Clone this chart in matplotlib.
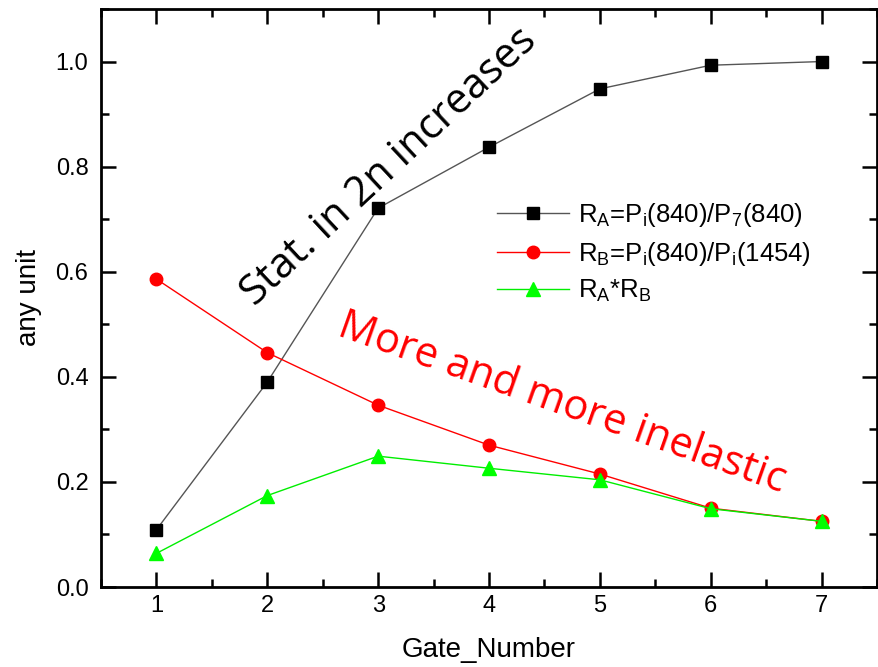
import matplotlib
matplotlib.use('Agg')
import matplotlib.pyplot as plt
from matplotlib.ticker import MultipleLocator

# data
gate = [1, 2, 3, 4, 5, 6, 7]
ra = [0.109, 0.390, 0.721, 0.837, 0.948, 0.993, 1.000]
rb = [0.586, 0.446, 0.346, 0.270, 0.215, 0.150, 0.125]
rab = [0.064, 0.174, 0.249, 0.226, 0.204, 0.149, 0.125]

plt.rcParams['font.family'] = ['Liberation Sans', 'DejaVu Sans']
plt.rcParams['mathtext.fontset'] = 'custom'
plt.rcParams['mathtext.rm'] = 'Liberation Sans'
plt.rcParams['mathtext.it'] = 'Liberation Sans'

fig = plt.figure(figsize=(8.79, 6.67), dpi=100)
ax = fig.add_axes([101/879, 80/667, 776/879, 578/667])

ax.plot(gate, ra, color='#555555', lw=1, marker='s', ms=8, mfc='black', mec='black',
        label=r'$\mathregular{R_A}$=$\mathregular{P_i}$(840)/$\mathregular{P_7}$(840)')
ax.plot(gate, rb, color='red', lw=1, marker='o', ms=9, mfc='red', mec='red',
        label=r'$\mathregular{R_B}$=$\mathregular{P_i}$(840)/$\mathregular{P_i}$(1454)')
ax.plot(gate, rab, color='#00ee00', lw=1, marker='^', ms=10, mfc='#00ff00', mec='#00ff00',
        label=r'$\mathregular{R_A}$*$\mathregular{R_B}$')

ax.set_xlim(0.5, 7.5)
ax.set_ylim(0, 1.1)
ax.xaxis.set_major_locator(MultipleLocator(1))
ax.xaxis.set_minor_locator(MultipleLocator(0.5))
ax.yaxis.set_major_locator(MultipleLocator(0.2))
ax.yaxis.set_minor_locator(MultipleLocator(0.1))
ax.yaxis.set_major_formatter(matplotlib.ticker.FormatStrFormatter('%.1f'))
ax.tick_params(which='both', direction='in', top=True, right=True, width=1.8, labelsize=17)
ax.tick_params(axis='x', pad=6)
ax.tick_params(axis='y', pad=9)
ax.tick_params(which='major', length=11)
ax.tick_params(which='minor', length=6)
for s in ax.spines.values():
    s.set_linewidth(2)

ax.set_xlabel('Gate_Number', fontsize=20, labelpad=14)
ax.set_ylabel('any unit', fontsize=20, labelpad=10)

ax.legend(loc='upper left', bbox_to_anchor=(0.497, 0.685), frameon=False, fontsize=18.5,
          handlelength=2.8, handletextpad=0.35, labelspacing=0.4, borderaxespad=0)

ax.text(3.1, 0.80, 'Stat. in 2n increases', rotation=43, rotation_mode='anchor',
        ha='center', va='center', fontsize=30, family='Open Sans', color='black')
ax.text(4.66, 0.35, 'More and more inelastic', rotation=-19.5, rotation_mode='anchor',
        ha='center', va='center', fontsize=30, family='Open Sans', color='red')

fig.savefig('out.png', dpi=100)
